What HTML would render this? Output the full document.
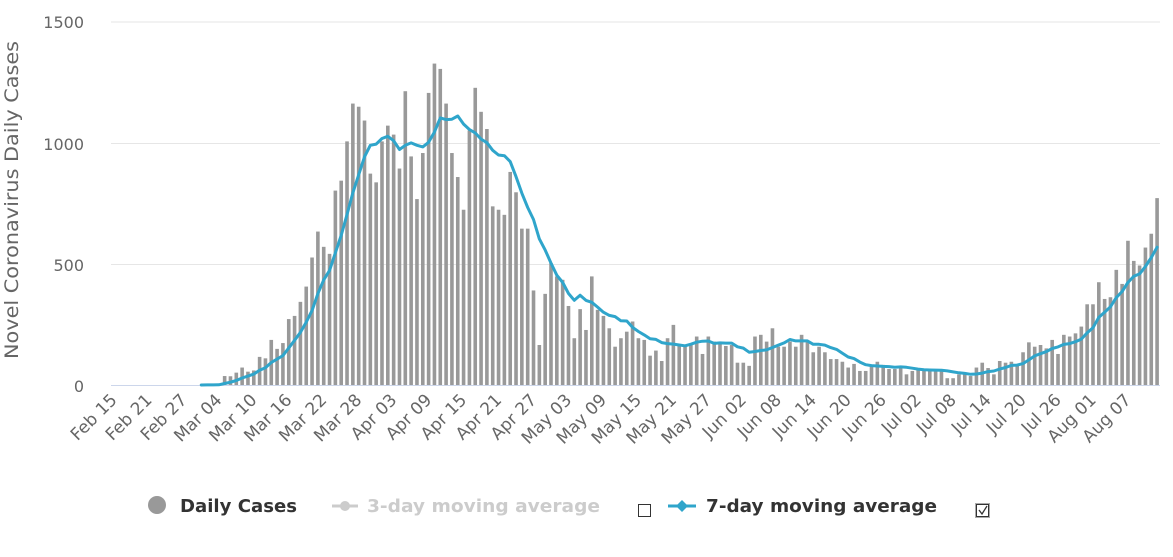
<!DOCTYPE html>
<html><head><meta charset="utf-8"><style>
html,body{margin:0;padding:0;background:#fff;width:1173px;height:557px;overflow:hidden}
svg text{font-family:"DejaVu Sans","Liberation Sans",sans-serif}
</style></head><body>
<svg id="c" width="1173" height="557" xmlns="http://www.w3.org/2000/svg">
<g id="grid"></g><g id="bars"></g><g id="line"></g><g id="xl"></g>
<text x="84" y="28" text-anchor="end" font-size="16" fill="#666">1500</text>
<text x="84" y="150" text-anchor="end" font-size="16" fill="#666">1000</text>
<text x="84" y="271" text-anchor="end" font-size="16" fill="#666">500</text>
<text x="84" y="392" text-anchor="end" font-size="16" fill="#666">0</text>
<text transform="translate(18,200) rotate(-90)" text-anchor="middle" font-size="19" fill="#666" textLength="318" lengthAdjust="spacingAndGlyphs">Novel Coronavirus Daily Cases</text>
<circle cx="157" cy="505" r="9" fill="#999"/>
<text x="180" y="512" font-size="18" font-weight="bold" fill="#333" textLength="117" lengthAdjust="spacingAndGlyphs">Daily Cases</text>
<line x1="332" y1="506" x2="358" y2="506" stroke="#ccc" stroke-width="3"/>
<circle cx="345" cy="506" r="5" fill="#ccc"/>
<text x="367" y="512" font-size="18" font-weight="bold" fill="#ccc" textLength="233" lengthAdjust="spacingAndGlyphs">3-day moving average</text>
<rect x="638.5" y="504.5" width="12" height="12" fill="#fff" stroke="#333" stroke-width="1"/>
<line x1="668" y1="506" x2="696" y2="506" stroke="#2fa5cb" stroke-width="3"/>
<path d="M682 500 L688 506 L682 512 L676 506Z" fill="#2fa5cb"/>
<text x="706" y="512" font-size="18" font-weight="bold" fill="#333" textLength="231" lengthAdjust="spacingAndGlyphs">7-day moving average</text>
<rect x="975.5" y="503.5" width="14" height="14" fill="#fff" stroke="#555" stroke-width="1" stroke-dasharray="1,1"/>
<rect x="976.5" y="504.5" width="12" height="12" fill="none" stroke="#333" stroke-width="1"/>
<path d="M979 510 L982 514 L987 506" fill="none" stroke="#333" stroke-width="1.3"/>
</svg>
<script>
var d=[0,0,0,0,0,0,0,0,0,0,0,0,0,0,0,1,1,2,3,37,36,51,72,55,60,116,110,186,149,173,272,285,343,406,526,633,570,541,802,843,1005,1161,1148,1091,872,836,
1005,1070,1033,893,1212,943,767,957,1205,1326,1304,1161,957,858,723,1050,1226,1127,1056,737,723,702,879,795,645,645,390,165,376,
503,448,434,326,193,313,227,448,310,285,234,158,193,220,262,193,186,121,142,99,193,248,165,165,165,200,128,200,179,178,161,165,92,92,79,200,207,179,234,158,158,179,158,207,179,135,158,135,107,107,96,72,87,58,58,83,96,83,66,66,72,44,58,70,62,62,62,66,28,28,44,44,37,72,92,70,44,99,92,96,83,135,176,158,165,151,186,128,207,200,213,241,333,333,424,355,362,475,417,595,512,493,567,624,771];
var ns="http://www.w3.org/2000/svg";
function el(t,a,p){var e=document.createElementNS(ns,t);for(var k in a)e.setAttribute(k,a[k]);if(p)document.getElementById(p).appendChild(e);return e;}
var X0=111,X1=1160,n=d.length,w=(X1-X0)/n;
function cx(i){return X0+w*(i+0.5);}
function cy(v){return 385-v*0.2424;}
[22,143.5,264.5].forEach(function(y){el('line',{x1:X0,x2:X1,y1:y,y2:y,stroke:'#e6e6e6','stroke-width':1},'grid');});
el('line',{x1:X0,x2:X1,y1:385.5,y2:385.5,stroke:'#ccd6eb','stroke-width':1},'grid');
for(var i=0;i<n;i++){if(d[i]>0){var h=d[i]*0.2424;el('rect',{x:cx(i)-1.8,y:385-h,width:3.6,height:h,fill:'#999'},'bars');}}
var pts=[];
for(var i=15;i<n;i++){var s=0;for(var j=Math.max(0,i-6);j<=i;j++){s+=d[j];}pts.push(cx(i).toFixed(1)+','+cy(s/7).toFixed(1));}
el('polyline',{points:pts.join(' '),fill:'none',stroke:'#2fa5cb','stroke-width':3,'stroke-linejoin':'round','stroke-linecap':'round'},'line');
var mon=['Feb','Mar','Apr','May','Jun','Jul','Aug'],md=[29,31,30,31,30,31,31];
for(var i=0;i<n;i+=6){var m=0,day=15+i;while(day>md[m]){day-=md[m];m++;}
var x=cx(i)+4,y=401;var t=el('text',{x:0,y:0,'text-anchor':'end','font-size':17,fill:'#666',transform:'translate('+x+','+y+') rotate(-45)'},'xl');
t.textContent=mon[m]+' '+(day<10?'0'+day:day);}
</script>
</body></html>
